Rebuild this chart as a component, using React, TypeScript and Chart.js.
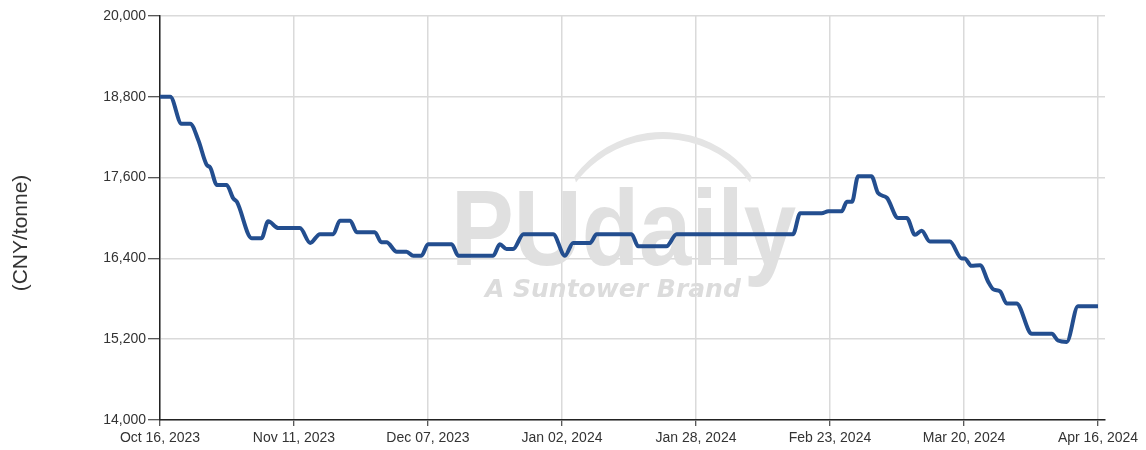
import { useEffect, useRef } from "react";
import { Chart, registerables } from "chart.js";

Chart.register(...registerables);

// Days since Oct 16, 2023 (change points of the price line)
const days = [
  0, 2, 4.2, 5.9, 7.5, 9.1, 9.8, 11.1, 13, 14.3, 15, 17.9, 19.8, 21.1, 23.1, 27.3, 29.3,
  31.2, 33.8, 35.1, 37.1, 38.4, 41.9, 43.2, 44.2, 46.2, 48.1, 49.4, 51.0, 52.3, 56.9,
  58.2, 65.0, 66.3, 67.6, 68.9, 70.9, 76.7, 79.0, 80.6, 83.9, 85.2, 92.0, 93.3, 98.8,
  100.8, 123.5, 124.9, 129.1, 130.4, 133.0, 134.0, 135.0, 136.2, 138.8, 140.1, 141.8,
  144.0, 145.7, 147.3, 148.6, 150.2, 154.1, 156.4, 157.0, 158.3, 160.0, 161.6, 162.6,
  163.9, 165.2, 167.1, 170.1, 174.0, 175.2, 176.9, 179.1, 183,
];
// Price in CNY/tonne
const prices = [
  18800, 18800, 18400, 18400, 18150, 17790, 17750, 17490, 17490, 17290, 17240, 16700, 16700,
  16950, 16850, 16850, 16630, 16760, 16760, 16960, 16960, 16790, 16790, 16640, 16640,
  16500, 16500, 16440, 16440, 16610, 16610, 16440, 16440, 16610, 16540, 16540, 16760,
  16760, 16440, 16630, 16630, 16760, 16760, 16580, 16580, 16760, 16760, 17070, 17070,
  17100, 17100, 17240, 17240, 17620, 17620, 17370, 17300, 17000, 17000, 16750, 16810,
  16650, 16650, 16400, 16400, 16290, 16300, 16050, 15940, 15910, 15730, 15730, 15280,
  15280, 15180, 15160, 15690, 15690,
];
const tickDays = [0, 26.14, 52.29, 78.43, 104.57, 130.71, 156.86, 183];
const tickLabels = [
  "Oct 16, 2023",
  "Nov 11, 2023",
  "Dec 07, 2023",
  "Jan 02, 2024",
  "Jan 28, 2024",
  "Feb 23, 2024",
  "Mar 20, 2024",
  "Apr 16, 2024",
];
const yTitle = "(CNY/tonne)";
const watermarkMain = "PUdaily";
const watermarkSub = "A Suntower Brand";

const FONT = "'Liberation Sans', Arial, sans-serif";

const watermarkPlugin = {
  id: "watermark",
  beforeDatasetsDraw(chart: any) {
    const { ctx } = chart;
    ctx.save();
    // arc
    const cx = 663;
    const cy = 243;
    const a1 = (-143 * Math.PI) / 180;
    const a2 = (-37 * Math.PI) / 180;
    ctx.beginPath();
    ctx.arc(cx, cy, 111, a1, a2, false);
    ctx.arc(cx, cy + 5, 109, a2, a1, true);
    ctx.closePath();
    ctx.fillStyle = "#e4e4e4";
    ctx.fill();
    // main text
    ctx.fillStyle = "#e0e0e0";
    ctx.textAlign = "left";
    ctx.textBaseline = "alphabetic";
    ctx.font = `bold 108px ${FONT}`;
    ctx.fillText(watermarkMain, 451, 265, 345);
    ctx.fillStyle = "#dcdcdc";
    ctx.font = `oblique bold 25px 'DejaVu Sans', sans-serif`;
    ctx.fillText(watermarkSub, 485, 297, 262);
    ctx.restore();
  },
  afterDraw(chart: any) {
    const { ctx } = chart;
    ctx.save();
    ctx.translate(21, 233);
    ctx.rotate(-Math.PI / 2);
    ctx.fillStyle = "#333";
    ctx.font = `21px ${FONT}`;
    ctx.textAlign = "center";
    ctx.textBaseline = "middle";
    ctx.fillText(yTitle, 0, 0);
    ctx.restore();
  },
};

export default function App() {
  const ref = useRef<HTMLCanvasElement>(null);

  useEffect(() => {
    const canvas = ref.current;
    if (!canvas) return;
    const chart = new Chart(canvas, {
      type: "line",
      data: {
        datasets: [
          {
            data: days.map((d, i) => ({ x: d, y: prices[i] })),
            borderColor: "#234e8f",
            borderWidth: 4,
            pointRadius: 0,
            cubicInterpolationMode: "monotone",
            fill: false,
          },
        ],
      },
      options: {
        animation: false,
        responsive: false,
        devicePixelRatio: 1,
        layout: { padding: { left: 0, right: 41, top: 16, bottom: 0 } },
        plugins: {
          legend: { display: false },
          tooltip: { enabled: false },
        },
        scales: {
          x: {
            type: "linear",
            min: 0,
            max: 184.37,
            afterBuildTicks: (scale: any) => {
              scale.ticks = tickDays.map((v) => ({ value: v }));
            },
            afterFit: (scale: any) => {
              scale.height = 30;
            },
            ticks: {
              autoSkip: false,
              maxRotation: 0,
              padding: 4,
              color: "#333",
              font: { family: FONT, size: 14 },
              callback: (_v: any, i: number) => tickLabels[i],
            },
            grid: {
              color: "#dadada",
              lineWidth: 1.5,
              tickColor: "#222",
              tickLength: 6,
              tickWidth: 1,
            },
            border: { color: "#222", width: 1.5 },
          },
          y: {
            type: "linear",
            min: 14000,
            max: 20000,
            afterFit: (scale: any) => {
              scale.width = 160;
            },
            ticks: {
              stepSize: 1200,
              padding: 2,
              color: "#333",
              font: { family: FONT, size: 14 },
              callback: (v: any) => Number(v).toLocaleString("en-US"),
            },
            grid: {
              color: "#dadada",
              lineWidth: 1.5,
              tickColor: "#222",
              tickLength: 12,
              tickWidth: 1,
            },
            border: { color: "#222", width: 1.5 },
          },
        },
      },
      plugins: [watermarkPlugin],
    });
    return () => chart.destroy();
  }, []);

  return (
    <div style={{ position: "absolute", left: 0, top: 0, width: 1146, height: 450, background: "#fff" }}>
      <canvas ref={ref} width={1146} height={450} style={{ display: "block" }} />
    </div>
  );
}
